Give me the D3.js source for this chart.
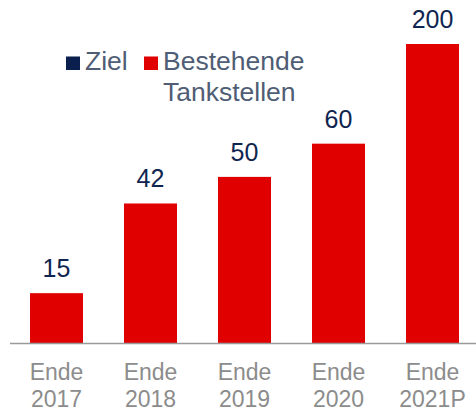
<!DOCTYPE html>
<html>
  <head>
    <meta charset="utf-8">
    <style>
      body { margin: 0; background: #fff; }
      text { font-family: "Liberation Sans", Arial, sans-serif; }
    </style>
  </head>
  <body>
    <svg class="chart"></svg>
    <script src="https://d3js.org/d3.v7.min.js"></script>
    <script>

var width = 476
var height = 412

var categories = ["Ende 2017", "Ende 2018", "Ende 2019", "Ende 2020", "Ende 2021P"]
var values = [15, 42, 50, 60, 200]
var legendItems = ["Ziel", "Bestehende Tankstellen"]
var legendColors = ["#0a1f4e", "#e00000"]

var baseline = 343

var svg = d3.select(".chart")
    .attr("width", width)
    .attr("height", height)

var x = d3.scaleBand()
    .domain(categories)
    .range([9.5, 479.5])
    .paddingInner(0.436)
    .paddingOuter(0.218)

// last bar runs off the scale, so it is clamped at the top
var y = d3.scaleLinear()
    .domain([0, 90])
    .range([baseline, 44])
    .clamp(true)

var data = categories.map(function(c, i) { return {cat: c, val: values[i]} })

svg.append("g").selectAll("rect")
    .data(data)
    .enter().append("rect")
    .attr("x", function(d) { return x(d.cat) })
    .attr("y", function(d) { return y(d.val) })
    .attr("width", x.bandwidth())
    .attr("height", function(d) { return baseline - y(d.val) })
    .attr("fill", "#e00000")

svg.append("g").selectAll("text")
    .data(data)
    .enter().append("text")
    .attr("x", function(d) { return x(d.cat) + x.bandwidth() / 2 })
    .attr("y", function(d) { return y(d.val) - 16 })
    .attr("text-anchor", "middle")
    .attr("font-size", "25px")
    .attr("fill", "#0f2550")
    .text(function(d) { return d.val })

// x axis
var axis = svg.append("g")
    .attr("transform", "translate(0," + baseline + ")")
    .call(d3.axisBottom(x).tickSize(0).tickFormat(""))
axis.select(".domain")
    .attr("d", "M10,0.5H476")
    .attr("stroke", "#9a9a9a")
    .attr("stroke-width", 1.5)

axis.selectAll(".tick").each(function(d) {
    var t = d3.select(this).append("text")
        .attr("text-anchor", "middle")
        .attr("font-size", "23px")
        .attr("fill", "#8c8c8c")
    var parts = d.split(" ")
    t.append("tspan").attr("x", 0).attr("y", 37).text(parts[0])
    t.append("tspan").attr("x", 0).attr("y", 64).text(parts[1])
})

// legend
var legend = svg.append("g")
var lx = [66, 144]
legendItems.forEach(function(name, i) {
    legend.append("rect")
        .attr("x", lx[i])
        .attr("y", 56.5)
        .attr("width", 14)
        .attr("height", 13.5)
        .attr("fill", legendColors[i])
    var t = legend.append("text")
        .attr("font-size", "26.5px")
        .attr("fill", "#4f5d75")
    var words = i == 1 ? ["Bestehende", "Tankstellen"] : [name]
    words.forEach(function(w, j) {
        t.append("tspan")
            .attr("x", lx[i] + 19)
            .attr("y", 69.5 + j * 31)
            .text(w)
    })
})

    </script>
  </body>
</html>
